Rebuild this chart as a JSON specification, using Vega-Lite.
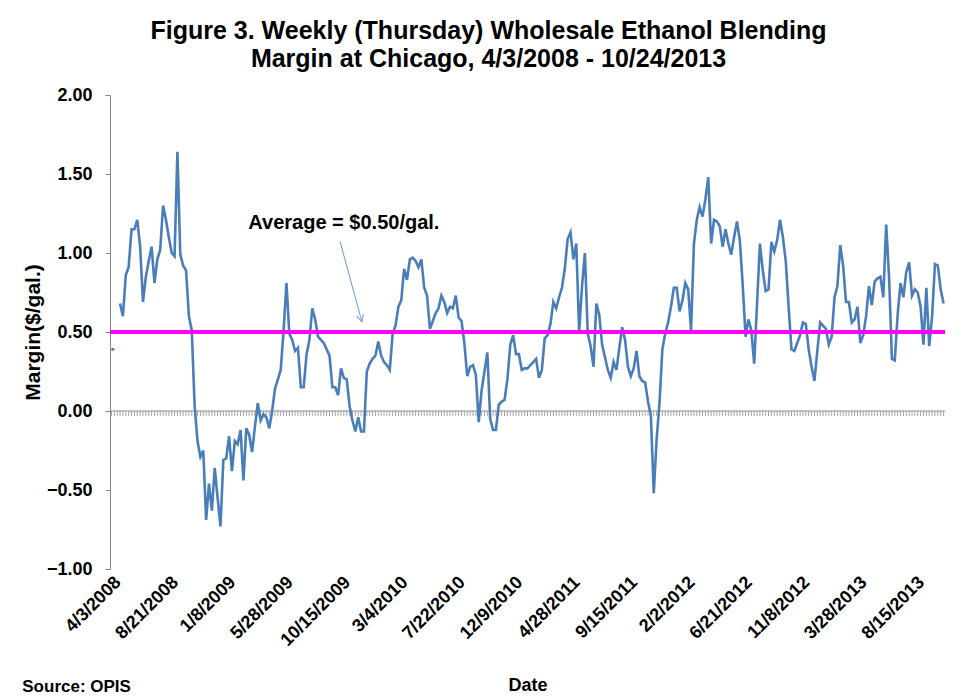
{
  "$schema": "https://vega.github.io/schema/vega-lite/v6.json",
  "autosize": {"type": "none"},
  "padding": {"left": 110, "top": 95, "right": 11, "bottom": 129},
  "width": 835,
  "height": 474,
  "background": "white",
  "config": {"view": {"stroke": null}, "font": "Liberation Sans"},
  "title": {
    "text": ["Figure 3. Weekly (Thursday) Wholesale Ethanol Blending", "Margin at Chicago, 4/3/2008 - 10/24/2013"],
    "font": "Liberation Sans", "fontSize": 25, "fontWeight": "bold", "color": "black",
    "anchor": "middle", "frame": "group", "dx": -39, "offset": 14, "lineHeight": 28
  },
  "resolve": {"axis": {"x": "independent", "y": "independent"}},
  "datasets": {
    "weekly": [
      {"d":"2008-04-03","m":0.39},{"d":"2008-04-10","m":0.39},{"d":"2008-04-17","m":null},{"d":"2008-04-24","m":0.68},
      {"d":"2008-05-01","m":0.60},{"d":"2008-05-08","m":0.86},{"d":"2008-05-15","m":0.91},{"d":"2008-05-22","m":1.15},{"d":"2008-05-29","m":1.15},
      {"d":"2008-06-05","m":1.21},{"d":"2008-06-12","m":1.04},{"d":"2008-06-19","m":0.69},{"d":"2008-06-26","m":0.85},
      {"d":"2008-07-03","m":0.95},{"d":"2008-07-10","m":1.04},{"d":"2008-07-17","m":0.81},{"d":"2008-07-24","m":0.96},{"d":"2008-07-31","m":1.02},
      {"d":"2008-08-07","m":1.30},{"d":"2008-08-14","m":1.21},{"d":"2008-08-21","m":1.10},{"d":"2008-08-28","m":1.00},
      {"d":"2008-09-04","m":0.98},{"d":"2008-09-11","m":1.64},{"d":"2008-09-18","m":0.99},{"d":"2008-09-25","m":0.92},
      {"d":"2008-10-02","m":0.89},{"d":"2008-10-09","m":0.60},{"d":"2008-10-16","m":0.51},{"d":"2008-10-23","m":0.03},{"d":"2008-10-30","m":-0.19},
      {"d":"2008-11-06","m":-0.29},{"d":"2008-11-13","m":-0.25},{"d":"2008-11-20","m":-0.69},{"d":"2008-11-27","m":-0.46},
      {"d":"2008-12-04","m":-0.63},{"d":"2008-12-11","m":-0.36},{"d":"2008-12-18","m":-0.55},{"d":"2008-12-25","m":-0.73},
      {"d":"2009-01-01","m":-0.31},{"d":"2009-01-08","m":-0.30},{"d":"2009-01-15","m":-0.16},{"d":"2009-01-22","m":-0.38},{"d":"2009-01-29","m":-0.19},
      {"d":"2009-02-05","m":-0.21},{"d":"2009-02-12","m":-0.12},{"d":"2009-02-19","m":-0.44},{"d":"2009-02-26","m":-0.11},
      {"d":"2009-03-05","m":-0.15},{"d":"2009-03-12","m":-0.26},{"d":"2009-03-19","m":-0.10},{"d":"2009-03-26","m":0.05},
      {"d":"2009-04-02","m":-0.06},{"d":"2009-04-09","m":-0.02},{"d":"2009-04-16","m":-0.04},{"d":"2009-04-23","m":-0.11},{"d":"2009-04-30","m":0.00},
      {"d":"2009-05-07","m":0.14},{"d":"2009-05-14","m":0.20},{"d":"2009-05-21","m":0.26},{"d":"2009-05-28","m":0.51},
      {"d":"2009-06-04","m":0.81},{"d":"2009-06-11","m":0.49},{"d":"2009-06-18","m":0.45},{"d":"2009-06-25","m":0.38},
      {"d":"2009-07-02","m":0.40},{"d":"2009-07-09","m":0.15},{"d":"2009-07-16","m":0.15},{"d":"2009-07-23","m":0.36},{"d":"2009-07-30","m":0.45},
      {"d":"2009-08-06","m":0.65},{"d":"2009-08-13","m":0.58},{"d":"2009-08-20","m":0.47},{"d":"2009-08-27","m":0.45},
      {"d":"2009-09-03","m":0.43},{"d":"2009-09-10","m":0.39},{"d":"2009-09-17","m":0.35},{"d":"2009-09-24","m":0.15},
      {"d":"2009-10-01","m":0.15},{"d":"2009-10-08","m":0.10},{"d":"2009-10-15","m":0.27},{"d":"2009-10-22","m":0.21},{"d":"2009-10-29","m":0.20},
      {"d":"2009-11-05","m":0.03},{"d":"2009-11-12","m":-0.06},{"d":"2009-11-19","m":-0.13},{"d":"2009-11-26","m":-0.04},
      {"d":"2009-12-03","m":-0.13},{"d":"2009-12-10","m":-0.13},{"d":"2009-12-17","m":0.25},{"d":"2009-12-24","m":0.30},{"d":"2009-12-31","m":0.33},
      {"d":"2010-01-07","m":0.35},{"d":"2010-01-14","m":0.44},{"d":"2010-01-21","m":0.35},{"d":"2010-01-28","m":0.31},
      {"d":"2010-02-04","m":0.29},{"d":"2010-02-11","m":0.26},{"d":"2010-02-18","m":0.49},{"d":"2010-02-25","m":0.54},
      {"d":"2010-03-04","m":0.66},{"d":"2010-03-11","m":0.70},{"d":"2010-03-18","m":0.90},{"d":"2010-03-25","m":0.83},
      {"d":"2010-04-01","m":0.96},{"d":"2010-04-08","m":0.97},{"d":"2010-04-15","m":0.95},{"d":"2010-04-22","m":0.91},{"d":"2010-04-29","m":0.96},
      {"d":"2010-05-06","m":0.78},{"d":"2010-05-13","m":0.73},{"d":"2010-05-20","m":0.52},{"d":"2010-05-27","m":0.57},
      {"d":"2010-06-03","m":0.62},{"d":"2010-06-10","m":0.65},{"d":"2010-06-17","m":0.73},{"d":"2010-06-24","m":0.69},
      {"d":"2010-07-01","m":0.62},{"d":"2010-07-08","m":0.66},{"d":"2010-07-15","m":0.65},{"d":"2010-07-22","m":0.73},{"d":"2010-07-29","m":0.59},
      {"d":"2010-08-05","m":0.57},{"d":"2010-08-12","m":0.43},{"d":"2010-08-19","m":0.22},{"d":"2010-08-26","m":0.28},
      {"d":"2010-09-02","m":0.29},{"d":"2010-09-09","m":0.23},{"d":"2010-09-16","m":-0.07},{"d":"2010-09-23","m":0.13},{"d":"2010-09-30","m":0.25},
      {"d":"2010-10-07","m":0.37},{"d":"2010-10-14","m":-0.05},{"d":"2010-10-21","m":-0.12},{"d":"2010-10-28","m":-0.12},
      {"d":"2010-11-04","m":0.04},{"d":"2010-11-11","m":0.06},{"d":"2010-11-18","m":0.07},{"d":"2010-11-25","m":0.20},
      {"d":"2010-12-02","m":0.42},{"d":"2010-12-09","m":0.48},{"d":"2010-12-16","m":0.36},{"d":"2010-12-23","m":0.36},{"d":"2010-12-30","m":0.26},
      {"d":"2011-01-06","m":0.27},{"d":"2011-01-13","m":0.27},{"d":"2011-01-20","m":0.29},{"d":"2011-01-27","m":0.31},
      {"d":"2011-02-03","m":0.33},{"d":"2011-02-10","m":0.21},{"d":"2011-02-17","m":0.26},{"d":"2011-02-24","m":0.46},
      {"d":"2011-03-03","m":0.48},{"d":"2011-03-10","m":0.55},{"d":"2011-03-17","m":0.69},{"d":"2011-03-24","m":0.65},{"d":"2011-03-31","m":0.72},
      {"d":"2011-04-07","m":0.78},{"d":"2011-04-14","m":0.90},{"d":"2011-04-21","m":1.09},{"d":"2011-04-28","m":1.13},
      {"d":"2011-05-05","m":0.96},{"d":"2011-05-12","m":1.06},{"d":"2011-05-19","m":0.50},{"d":"2011-05-26","m":0.79},
      {"d":"2011-06-02","m":1.00},{"d":"2011-06-09","m":0.49},{"d":"2011-06-16","m":0.41},{"d":"2011-06-23","m":0.28},{"d":"2011-06-30","m":0.68},
      {"d":"2011-07-07","m":0.61},{"d":"2011-07-14","m":0.42},{"d":"2011-07-21","m":0.34},{"d":"2011-07-28","m":0.26},
      {"d":"2011-08-04","m":0.21},{"d":"2011-08-11","m":0.31},{"d":"2011-08-18","m":0.26},{"d":"2011-08-25","m":0.40},
      {"d":"2011-09-01","m":0.53},{"d":"2011-09-08","m":0.45},{"d":"2011-09-15","m":0.28},{"d":"2011-09-22","m":0.22},{"d":"2011-09-29","m":0.27},
      {"d":"2011-10-06","m":0.38},{"d":"2011-10-13","m":0.22},{"d":"2011-10-20","m":0.19},{"d":"2011-10-27","m":0.18},
      {"d":"2011-11-03","m":0.06},{"d":"2011-11-10","m":-0.03},{"d":"2011-11-17","m":-0.52},{"d":"2011-11-24","m":-0.18},
      {"d":"2011-12-01","m":0.05},{"d":"2011-12-08","m":0.39},{"d":"2011-12-15","m":0.49},{"d":"2011-12-22","m":0.56},{"d":"2011-12-29","m":0.66},
      {"d":"2012-01-05","m":0.78},{"d":"2012-01-12","m":0.78},{"d":"2012-01-19","m":0.63},{"d":"2012-01-26","m":0.70},
      {"d":"2012-02-02","m":0.81},{"d":"2012-02-09","m":0.77},{"d":"2012-02-16","m":0.51},{"d":"2012-02-23","m":1.06},
      {"d":"2012-03-01","m":1.21},{"d":"2012-03-08","m":1.29},{"d":"2012-03-15","m":1.23},{"d":"2012-03-22","m":1.34},{"d":"2012-03-29","m":1.48},
      {"d":"2012-04-05","m":1.06},{"d":"2012-04-12","m":1.21},{"d":"2012-04-19","m":1.20},{"d":"2012-04-26","m":1.17},
      {"d":"2012-05-03","m":1.04},{"d":"2012-05-10","m":1.15},{"d":"2012-05-17","m":1.06},{"d":"2012-05-24","m":0.99},{"d":"2012-05-31","m":1.10},
      {"d":"2012-06-07","m":1.20},{"d":"2012-06-14","m":1.08},{"d":"2012-06-21","m":0.80},{"d":"2012-06-28","m":0.47},
      {"d":"2012-07-05","m":0.58},{"d":"2012-07-12","m":0.51},{"d":"2012-07-19","m":0.30},{"d":"2012-07-26","m":0.68},
      {"d":"2012-08-02","m":1.06},{"d":"2012-08-09","m":0.89},{"d":"2012-08-16","m":0.76},{"d":"2012-08-23","m":0.77},{"d":"2012-08-30","m":1.07},
      {"d":"2012-09-06","m":1.01},{"d":"2012-09-13","m":1.08},{"d":"2012-09-20","m":1.21},{"d":"2012-09-27","m":1.10},
      {"d":"2012-10-04","m":0.95},{"d":"2012-10-11","m":0.66},{"d":"2012-10-18","m":0.39},{"d":"2012-10-25","m":0.38},
      {"d":"2012-11-01","m":0.43},{"d":"2012-11-08","m":0.48},{"d":"2012-11-15","m":0.56},{"d":"2012-11-22","m":0.55},{"d":"2012-11-29","m":0.39},
      {"d":"2012-12-06","m":0.28},{"d":"2012-12-13","m":0.19},{"d":"2012-12-20","m":0.38},{"d":"2012-12-27","m":0.56},
      {"d":"2013-01-03","m":0.54},{"d":"2013-01-10","m":0.52},{"d":"2013-01-17","m":0.42},{"d":"2013-01-24","m":0.47},{"d":"2013-01-31","m":0.72},
      {"d":"2013-02-07","m":0.79},{"d":"2013-02-14","m":1.05},{"d":"2013-02-21","m":0.92},{"d":"2013-02-28","m":0.69},
      {"d":"2013-03-07","m":0.69},{"d":"2013-03-14","m":0.56},{"d":"2013-03-21","m":0.58},{"d":"2013-03-28","m":0.66},
      {"d":"2013-04-04","m":0.43},{"d":"2013-04-11","m":0.48},{"d":"2013-04-18","m":0.60},{"d":"2013-04-25","m":0.79},
      {"d":"2013-05-02","m":0.67},{"d":"2013-05-09","m":0.82},{"d":"2013-05-16","m":0.84},{"d":"2013-05-23","m":0.85},{"d":"2013-05-30","m":0.72},
      {"d":"2013-06-06","m":1.18},{"d":"2013-06-13","m":0.85},{"d":"2013-06-20","m":0.33},{"d":"2013-06-27","m":0.32},
      {"d":"2013-07-04","m":0.61},{"d":"2013-07-11","m":0.81},{"d":"2013-07-18","m":0.72},{"d":"2013-07-25","m":0.88},
      {"d":"2013-08-01","m":0.94},{"d":"2013-08-08","m":0.73},{"d":"2013-08-15","m":0.77},{"d":"2013-08-22","m":0.75},{"d":"2013-08-29","m":0.66},
      {"d":"2013-09-05","m":0.42},{"d":"2013-09-12","m":0.78},{"d":"2013-09-19","m":0.41},{"d":"2013-09-26","m":0.60},
      {"d":"2013-10-03","m":0.93},{"d":"2013-10-10","m":0.92},{"d":"2013-10-17","m":0.77},{"d":"2013-10-24","m":0.68}
    ]
  },
  "layer": [
    {
      "data": {"name": "weekly"},
      "mark": {"type": "rule", "color": "#a6a6a6", "strokeWidth": 1},
      "encoding": {
        "x": {"field": "d", "type": "temporal", "axis": null},
        "y": {"datum": 0, "type": "quantitative", "axis": null},
        "y2": {"datum": -0.032}
      }
    },
    {
      "data": {"values": [{}]},
      "mark": {"type": "rule", "color": "#8c8c8c", "strokeWidth": 1.2},
      "encoding": {"y": {"datum": 0, "type": "quantitative", "axis": null}}
    },
    {
      "data": {"name": "weekly"},
      "mark": {"type": "line", "color": "#4a7ebb", "strokeWidth": 2.6, "invalid": "break-paths-show-domains"},
      "encoding": {
        "x": {
          "field": "d", "type": "temporal",
          "scale": {"domain": [{"year": 2008, "month": 3, "date": 30, "hours": 12}, {"year": 2013, "month": 10, "date": 27, "hours": 12}]},
          "axis": {
            "values": [
              {"year": 2008, "month": 4, "date": 3}, {"year": 2008, "month": 8, "date": 21},
              {"year": 2009, "month": 1, "date": 8}, {"year": 2009, "month": 5, "date": 28},
              {"year": 2009, "month": 10, "date": 15}, {"year": 2010, "month": 3, "date": 4},
              {"year": 2010, "month": 7, "date": 22}, {"year": 2010, "month": 12, "date": 9},
              {"year": 2011, "month": 4, "date": 28}, {"year": 2011, "month": 9, "date": 15},
              {"year": 2012, "month": 2, "date": 2}, {"year": 2012, "month": 6, "date": 21},
              {"year": 2012, "month": 11, "date": 8}, {"year": 2013, "month": 3, "date": 28},
              {"year": 2013, "month": 8, "date": 15}
            ],
            "labelExpr": "timeFormat(datum.value, '%-m/%-d/%Y')",
            "labelAngle": -45, "labelAlign": "right", "labelBaseline": "top",
            "labelFont": "Liberation Sans", "labelFontSize": 18, "labelFontWeight": "bold", "labelColor": "black",
            "labelPadding": 4, "labelOverlap": false, "labelFlush": false, "labelBound": false,
            "ticks": false, "domain": false, "grid": false,
            "title": "Date", "titleFont": "Liberation Sans", "titleFontSize": 18, "titleFontWeight": "bold", "titleColor": "black",
            "titleY": 121, "titleBaseline": "alphabetic"
          }
        },
        "y": {
          "field": "m", "type": "quantitative",
          "scale": {"domain": [-1, 2], "nice": false, "zero": false},
          "axis": {
            "values": [-1, -0.5, 0, 0.5, 1, 1.5, 2], "format": ".2f",
            "labelFont": "Liberation Sans", "labelFontSize": 18, "labelFontWeight": "bold", "labelColor": "black",
            "labelPadding": 13, "labelOverlap": false, "labelFlush": false,
            "tickSize": 5, "tickColor": "#868686", "domainColor": "#868686", "grid": false,
            "title": "Margin($/gal.)", "titleFont": "Liberation Sans", "titleFontSize": 21, "titleFontWeight": "bold", "titleColor": "black",
            "titleAngle": 270, "titleX": -71, "titleY": 237, "titleBaseline": "alphabetic"
          }
        }
      }
    },
    {
      "data": {"values": [{}]},
      "mark": {"type": "rule", "color": "#ff00ff", "strokeWidth": 4},
      "encoding": {"y": {"datum": 0.5, "type": "quantitative", "axis": null}}
    },
    {
      "data": {"values": [{}]},
      "mark": {"type": "rule", "color": "#6a98d4", "strokeWidth": 1},
      "encoding": {
        "x": {"datum": {"year": 2009, "month": 10, "date": 13}, "type": "temporal", "axis": null},
        "y": {"datum": 1.07, "type": "quantitative", "axis": null},
        "x2": {"datum": {"year": 2009, "month": 12, "date": 5}},
        "y2": {"datum": 0.565}
      }
    },
    {
      "data": {"values": [{}]},
      "mark": {"type": "point", "shape": "M-0.5,-1L0,0L0.5,-1", "filled": false, "color": "#6a98d4", "strokeWidth": 1, "size": 196, "angle": -15, "opacity": 1},
      "encoding": {
        "x": {"datum": {"year": 2009, "month": 12, "date": 5}, "type": "temporal", "axis": null},
        "y": {"datum": 0.565, "type": "quantitative", "axis": null}
      }
    },
    {
      "data": {"values": [{}]},
      "mark": {"type": "text", "text": "Average = $0.50/gal.", "font": "Liberation Sans", "fontSize": 20, "fontWeight": "bold", "color": "black", "align": "center", "baseline": "alphabetic"},
      "encoding": {
        "x": {"datum": {"year": 2009, "month": 10, "date": 22}, "type": "temporal", "axis": null},
        "y": {"datum": 1.155, "type": "quantitative", "axis": null}
      }
    },
    {
      "data": {"values": [{}]},
      "mark": {"type": "text", "text": "Source: OPIS", "font": "Liberation Sans", "fontSize": 17, "fontWeight": "bold", "color": "black", "align": "left", "baseline": "alphabetic"},
      "encoding": {
        "x": {"datum": {"year": 2007, "month": 8, "date": 29, "hours": 12}, "type": "temporal", "axis": null},
        "y": {"datum": -1.778, "type": "quantitative", "axis": null}
      }
    }
  ]
}
